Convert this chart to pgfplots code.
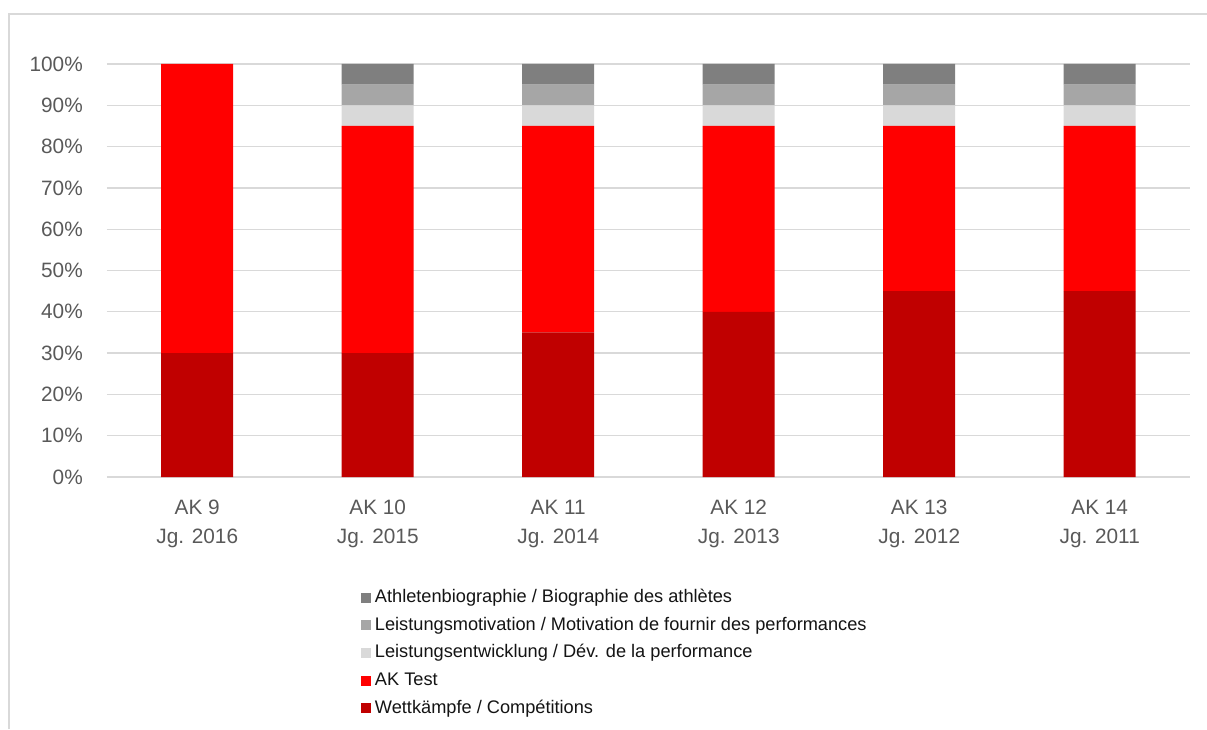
\documentclass[border=0pt]{standalone}
\usepackage{fontspec}
\setmainfont{Liberation Sans}
\usepackage{pgfplots}
\pgfplotsset{compat=1.18}
\definecolor{cWett}{HTML}{C00000}
\definecolor{cAK}{HTML}{FF0000}
\definecolor{cEnt}{HTML}{D9D9D9}
\definecolor{cMot}{HTML}{A6A6A6}
\definecolor{cBio}{HTML}{7F7F7F}
\definecolor{cGrid}{HTML}{D9D9D9}
\definecolor{cTick}{HTML}{595959}
\definecolor{cLeg}{HTML}{141414}
\begin{document}
\begin{tikzpicture}
\path[use as bounding box] (0pt,0pt) rectangle (1207pt,729pt);
\draw[cGrid,line width=1.3pt] (9pt,0pt) -- (9pt,715pt) -- (1207pt,715pt);
\begin{axis}[
  at={(107pt,252pt)}, anchor=south west,
  scale only axis, width=1083pt, height=413pt,
  ybar stacked, bar width=72pt,
  xmin=-0.5, xmax=5.5, ymin=0, ymax=100,
  xtick={0,...,5},
  xticklabels={{AK 9\\Jg. 2016},{AK 10\\Jg. 2015},{AK 11\\Jg. 2014},{AK 12\\Jg. 2013},{AK 13\\Jg. 2012},{AK 14\\Jg. 2011}},
  ytick={0,10,...,100},
  yticklabels={0\%,10\%,20\%,30\%,40\%,50\%,60\%,70\%,80\%,90\%,100\%},
  axis line style={draw=none},
  major tick length=0pt,
  ymajorgrids, grid style={cGrid, line width=1.3pt},
  yticklabel style={font=\fontsize{20.8}{24}\selectfont, text=cTick, inner sep=0pt, xshift=-24pt, anchor=east},
  xticklabel style={font=\fontsize{20.8}{29}\selectfont, text=cTick, inner sep=0pt, yshift=-23pt, align=center, anchor=north},
  reverse legend,
  legend style={at={(0.2345,-0.272)}, anchor=north west, draw=none, inner sep=0pt, outer sep=0pt,
     font=\fontsize{18.2}{20}\selectfont, text=cLeg,
     nodes={inner sep=0pt, text height=13pt, text depth=3.5pt},
     row sep=11.2pt},
  legend cell align=left,
  /tikz/every odd column/.append style={column sep=4pt},
  legend image code/.code={\path[#1, draw=none] (0pt,-5pt) rectangle (10pt,5pt);},
]
\addplot[fill=cWett, draw=none] coordinates {(0,30) (1,30) (2,35) (3,40) (4,45) (5,45)};
\addplot[fill=cAK, draw=none] coordinates {(0,70) (1,55) (2,50) (3,45) (4,40) (5,40)};
\addplot[fill=cEnt, draw=none] coordinates {(0,0) (1,5) (2,5) (3,5) (4,5) (5,5)};
\addplot[fill=cMot, draw=none] coordinates {(0,0) (1,5) (2,5) (3,5) (4,5) (5,5)};
\addplot[fill=cBio, draw=none] coordinates {(0,0) (1,5) (2,5) (3,5) (4,5) (5,5)};
\legend{Wettkämpfe / Compétitions, AK Test, Leistungsentwicklung / Dév. de la performance, Leistungsmotivation / Motivation de fournir des performances, Athletenbiographie / Biographie des athlètes}
\end{axis}
\end{tikzpicture}
\end{document}
